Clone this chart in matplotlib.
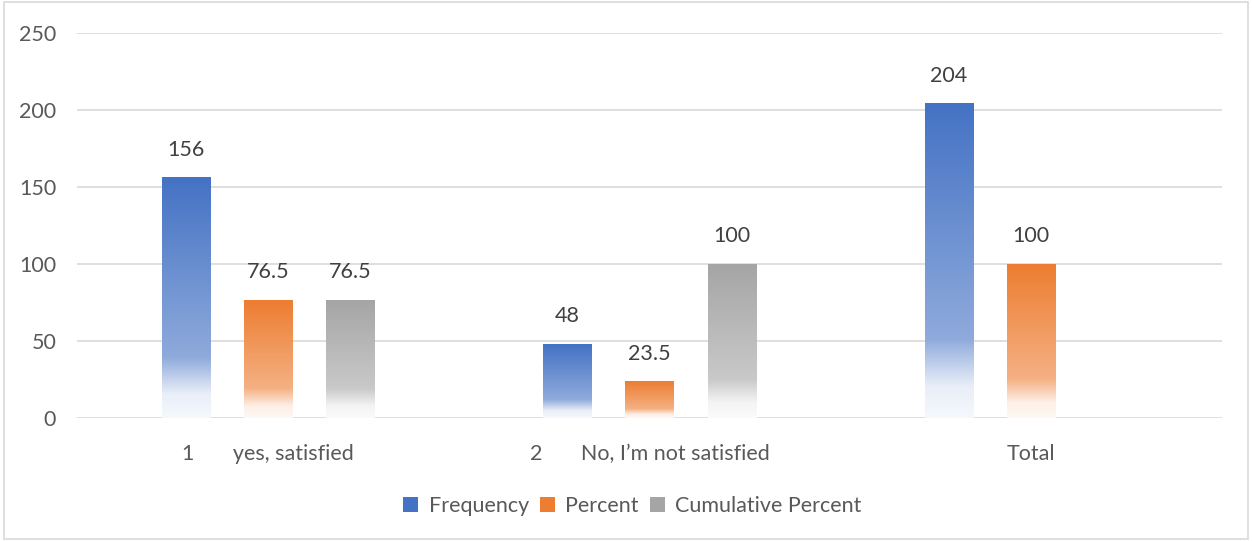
import numpy as np
import matplotlib.pyplot as plt
from matplotlib.colors import to_rgb
from matplotlib.patches import Patch, Rectangle

plt.rcParams['font.family'] = ['Lato', 'DejaVu Sans']

categories = ['1       yes, satisfied', '2       No, I\u2019m not satisfied', 'Total']
series_names = ['Frequency', 'Percent', 'Cumulative Percent']
frequency = [156, 48, 204]
percent = [76.5, 23.5, 100]
cumulative = [76.5, 100, None]
series_values = [frequency, percent, cumulative]
colors = ['#4472C4', '#ED7D31', '#A5A5A5']

FS = 15.5


def gradient_image(color, n=256):
    # top of bar is full colour, fades towards white at the base
    t = np.linspace(0, 1, n)
    white = np.interp(t, [0, 0.75, 0.9, 1.0], [0.0, 0.4, 0.88, 0.95])
    rgb = np.array(to_rgb(color))
    img = rgb[None, :] * (1 - white[:, None]) + white[:, None]
    return img[:, None, :]


fig = plt.figure(figsize=(12.52, 5.41), dpi=100)
ax = fig.add_axes([77 / 1252, 1 - 418 / 541, (1222 - 77) / 1252, (418 - 33) / 541])

x = np.arange(len(categories))
width = 0.126
offsets = [-0.215, 0.0, 0.215]

for vals, off, col in zip(series_values, offsets, colors):
    img = gradient_image(col)
    for xi, v in zip(x, vals):
        if v is None:
            continue
        x0 = xi + off - width / 2
        ax.imshow(img, extent=[x0, x0 + width, 0, v], aspect='auto',
                  interpolation='bilinear', origin='upper', zorder=2)
        ax.annotate(f'{v:g}', (xi + off, v), xytext=(0, 20), textcoords='offset points',
                    ha='center', va='center', fontsize=FS, color='#404040')

ax.set_xlim(-0.5, 2.5)
ax.set_ylim(0, 250)
ax.set_yticks(np.arange(0, 251, 50))
ax.set_xticks(x)
ax.set_xticklabels(categories)
ax.tick_params(axis='both', length=0, labelsize=FS, colors='#595959')
ax.tick_params(axis='x', pad=19)
ax.tick_params(axis='y', pad=15)
ax.grid(axis='y', color='#D9D9D9', linewidth=1.2, zorder=0)
ax.set_axisbelow(True)
for s in ax.spines.values():
    s.set_visible(False)

handles = [Patch(facecolor=c, edgecolor='none', label=n) for c, n in zip(colors, series_names)]
fig.legend(handles=handles, loc='center', bbox_to_anchor=(0.505, 1 - 506 / 541), ncol=3,
           frameon=False, fontsize=FS, handlelength=0.7, handleheight=0.7,
           handletextpad=0.5, columnspacing=0.5, labelcolor='#595959')

fig.patches.append(Rectangle((0.003, 0.004), 0.994, 0.992, transform=fig.transFigure,
                             fill=False, edgecolor='#D9D9D9', linewidth=1.2))

fig.savefig('out.png', dpi=100, facecolor='white')
